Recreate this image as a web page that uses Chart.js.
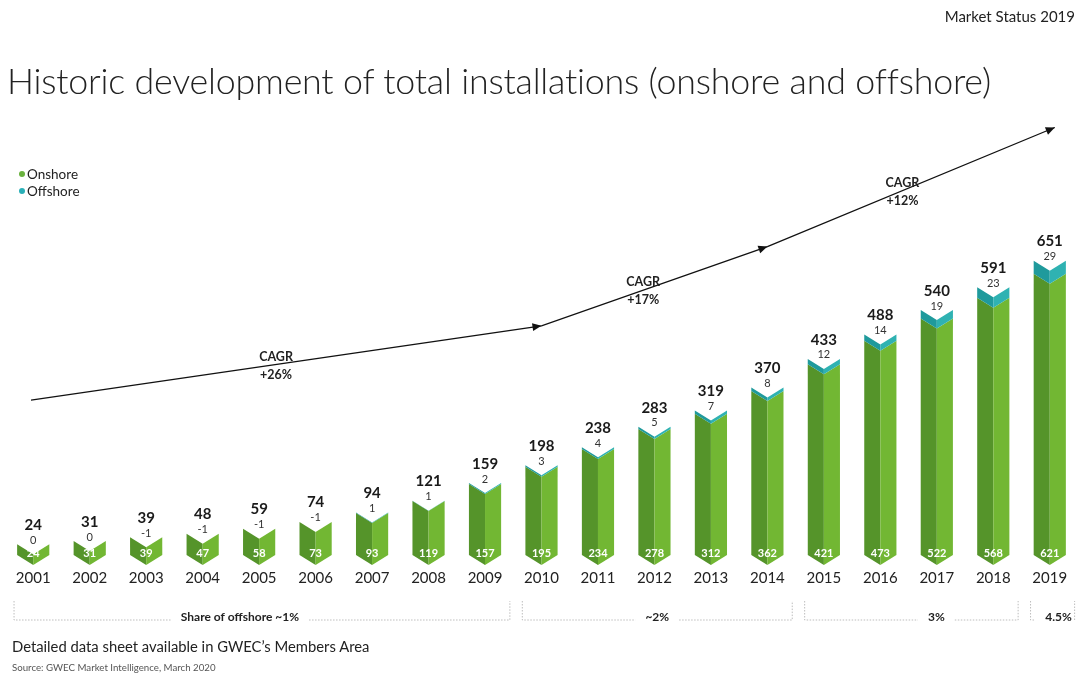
<!DOCTYPE html>
<html>
<head>
<meta charset="utf-8">
<script src="https://cdn.jsdelivr.net/npm/chart.js@4/dist/chart.umd.min.js"></script>
<style>
  html, body { margin: 0; padding: 0; background: #fff; }
  #wrap { position: relative; width: 1084px; height: 677px; overflow: hidden; font-family: Lato, "Open Sans", sans-serif; color: #222; }
  #chart { position: absolute; left: 0; top: 0; }
  .txt { position: absolute; white-space: nowrap; }
  #status { right: 9px; top: 7px; font-size: 15px; }
  #title { left: 7px; top: 59px; font-size: 35.8px; font-weight: 300; letter-spacing: -0.2px; }
  #legend { left: 19px; top: 166px; font-size: 13.5px; line-height: 17px; }
  #legend span { display: inline-block; width: 6px; height: 6px; border-radius: 50%; margin-right: 2px; vertical-align: 2px; }
  #note { left: 12px; top: 637px; font-size: 14.8px; }
  #source { left: 12px; top: 661px; font-size: 9.7px; color: #555; }
</style>
</head>
<body>
<div id="wrap">
  <canvas id="chart" width="1084" height="677"></canvas>
  <div class="txt" id="status">Market Status 2019</div>
  <div class="txt" id="title">Historic development of total installations (onshore and offshore)</div>
  <div class="txt" id="legend">
    <div><span style="background:#6ab23e"></span>Onshore</div>
    <div><span style="background:#2ab0b8"></span>Offshore</div>
  </div>
  <div class="txt" id="note">Detailed data sheet available in GWEC’s Members Area</div>
  <div class="txt" id="source">Source: GWEC Market Intelligence, March 2020</div>
</div>
<script>
// values in GW
var years = ['2001','2002','2003','2004','2005','2006','2007','2008','2009','2010',
             '2011','2012','2013','2014','2015','2016','2017','2018','2019'];
var onshore  = [24, 31, 39, 47, 58, 73, 93, 119, 157, 195, 234, 278, 312, 362, 421, 473, 522, 568, 621];
var offshore = [0, 0, -1, -1, -1, -1, 1, 1, 2, 3, 4, 5, 7, 8, 12, 14, 19, 23, 29];
var totals   = [24, 31, 39, 48, 59, 74, 94, 121, 159, 198, 238, 283, 319, 370, 433, 488, 540, 591, 651];

// share of offshore brackets
var shareLabels = ['Share of offshore ~1%', '~2%', '3%', '4.5%'];
var shareFrom   = ['2001', '2010', '2015', '2019'];
var shareTo     = ['2009', '2014', '2018', '2019'];

// CAGR trend arrow (corner years and levels on the value scale)
var cagrYears  = ['2001', '2010', '2014', '2019'];
var cagrLevels = [342, 506, 681, 944];
var cagrLabels = ['+26%', '+17%', '+12%'];

var FONT = 'Lato, "Open Sans", sans-serif';

function chevron(ctx, x, w, yTop, yBot, d, cLeft, cRight) {
    // left half
    ctx.fillStyle = cLeft;
    ctx.beginPath();
    ctx.moveTo(x - w / 2, yTop);
    ctx.lineTo(x, yTop + d);
    ctx.lineTo(x, yBot + d);
    ctx.lineTo(x - w / 2, yBot);
    ctx.closePath();
    ctx.fill();
    // right half
    ctx.fillStyle = cRight;
    ctx.beginPath();
    ctx.moveTo(x + w / 2, yTop);
    ctx.lineTo(x, yTop + d);
    ctx.lineTo(x, yBot + d);
    ctx.lineTo(x + w / 2, yBot);
    ctx.closePath();
    ctx.fill();
}

function arrowHead(ctx, x0, y0, x1, y1) {
    var a = Math.atan2(y1 - y0, x1 - x0);
    var L = 9, W = 4;
    ctx.beginPath();
    ctx.moveTo(x1, y1);
    ctx.lineTo(x1 - L * Math.cos(a) + W * Math.sin(a), y1 - L * Math.sin(a) - W * Math.cos(a));
    ctx.lineTo(x1 - L * Math.cos(a) - W * Math.sin(a), y1 - L * Math.sin(a) + W * Math.cos(a));
    ctx.closePath();
    ctx.fill();
}

var shapePlugin = {
    id: 'shapes',
    afterDatasetsDraw: function (chart) {
        var ctx = chart.ctx;
        var xs = chart.scales.x, ys = chart.scales.y;
        var meta = chart.getDatasetMeta(0);
        var step = xs.getPixelForValue(1) - xs.getPixelForValue(0);
        var d = 10;
        ctx.save();

        meta.data.forEach(function (bar, i) {
            var x = bar.x, w = bar.width;
            var base = ys.getPixelForValue(0);
            var yOn = ys.getPixelForValue(onshore[i]);
            var yTot = ys.getPixelForValue(onshore[i] + Math.max(offshore[i], 0));
            chevron(ctx, x, w, yOn, base, d, '#55942a', '#72b733');
            if (offshore[i] > 0) {
                chevron(ctx, x, w, yTot, yOn, d, '#1f9a9c', '#2fb2b2');
            }
            var yLab = Math.min(yTot, ys.getPixelForValue(totals[i]));
            ctx.textAlign = 'center';
            ctx.textBaseline = 'middle';
            ctx.fillStyle = '#1a1a1a';
            ctx.font = 'bold 15px ' + FONT;
            ctx.fillText(totals[i], x, yLab - 19);
            ctx.fillStyle = '#333';
            ctx.font = '11px ' + FONT;
            ctx.fillText(offshore[i], x, yLab - 4);
            ctx.fillStyle = '#fff';
            ctx.font = 'bold 11px ' + FONT;
            ctx.fillText(onshore[i], x, base - 2);
        });

        // CAGR arrows
        var pts = cagrYears.map(function (yr, k) {
            var px = xs.getPixelForValue(years.indexOf(yr));
            if (k === 0) px = chart.chartArea.left + 26;
            if (k === cagrYears.length - 1) px += 5;
            return [px, ys.getPixelForValue(cagrLevels[k])];
        });
        ctx.strokeStyle = '#111';
        ctx.fillStyle = '#111';
        ctx.lineWidth = 1.3;
        ctx.beginPath();
        ctx.moveTo(pts[0][0], pts[0][1]);
        for (var k = 1; k < pts.length; k++) ctx.lineTo(pts[k][0], pts[k][1]);
        ctx.stroke();
        for (k = 1; k < pts.length; k++) arrowHead(ctx, pts[k - 1][0], pts[k - 1][1], pts[k][0], pts[k][1]);

        ctx.font = 'bold 12.5px ' + FONT;
        ctx.fillStyle = '#222';
        var labX = [0.48, 0.45, 0.47];
        for (k = 0; k < cagrLabels.length; k++) {
            var t = labX[k];
            var lx = pts[k][0] + (pts[k + 1][0] - pts[k][0]) * t;
            var ly = pts[k][1] + (pts[k + 1][1] - pts[k][1]) * t;
            ctx.fillText('CAGR', lx, ly - 8);
            ctx.fillText(cagrLabels[k], lx, ly + 10);
        }

        // share brackets
        ctx.strokeStyle = '#bdbdbd';
        ctx.lineWidth = 1;
        ctx.setLineDash([1.5, 1.5]);
        ctx.font = 'bold 12px ' + FONT;
        var yTopB = 601, yB = 620;
        shareLabels.forEach(function (lab, g) {
            var l = xs.getPixelForValue(years.indexOf(shareFrom[g])) - step * 0.34;
            var r = xs.getPixelForValue(years.indexOf(shareTo[g])) + step * 0.44;
            var tw = ctx.measureText(lab).width;
            var c = g === 0 ? (l + r) / 2 - 22 : (g === 2 ? (l + r) / 2 + 25 : (l + r) / 2 + (g === 3 ? 6 : 0));
            ctx.beginPath();
            ctx.moveTo(l, yTopB); ctx.lineTo(l, yB); ctx.lineTo(Math.max(l, c - tw / 2 - 10), yB);
            ctx.moveTo(Math.min(r, c + tw / 2 + 10), yB); ctx.lineTo(r, yB); ctx.lineTo(r, yTopB);
            ctx.stroke();
            ctx.fillStyle = '#222';
            ctx.fillText(lab, c, yB - 3);
        });
        ctx.setLineDash([]);
        ctx.restore();
    }
};

new Chart(document.getElementById('chart').getContext('2d'), {
    type: 'bar',
    data: {
        labels: years,
        datasets: [
            { label: 'Onshore', data: onshore, backgroundColor: 'rgba(0,0,0,0)', barPercentage: 0.57, categoryPercentage: 1 },
            { label: 'Offshore', data: offshore, backgroundColor: 'rgba(0,0,0,0)', barPercentage: 0.57, categoryPercentage: 1 }
        ]
    },
    options: {
        responsive: false,
        animation: false,
        layout: { padding: { left: 5, right: 6, top: 238, bottom: 76 } },
        plugins: { legend: { display: false }, tooltip: { enabled: false } },
        scales: {
            x: {
                stacked: true,
                grid: { display: false, drawTicks: false },
                border: { display: false },
                ticks: { color: '#222', font: { size: 15, family: FONT }, padding: 14 }
            },
            y: { stacked: true, display: false, min: 0, max: 700 }
        }
    },
    plugins: [shapePlugin]
});
</script>
</body>
</html>
